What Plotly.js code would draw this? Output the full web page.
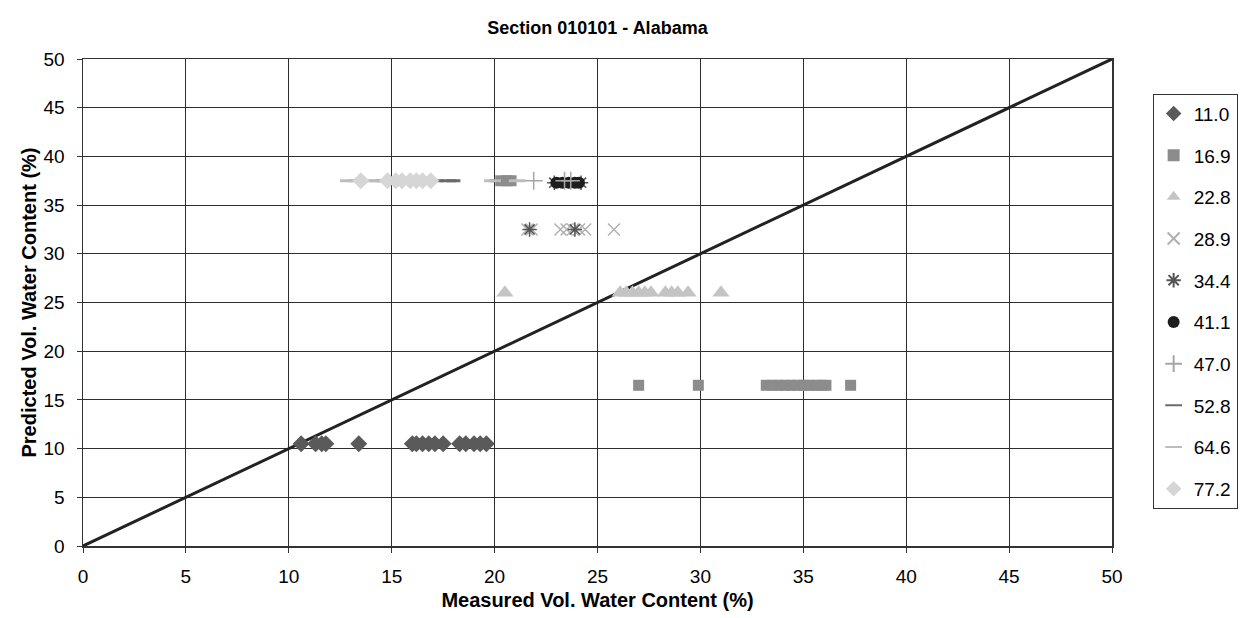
<!DOCTYPE html>
<html>
<head>
<meta charset="utf-8">
<script src="https://cdn.plot.ly/plotly-3.0.1.min.js"></script>
<style>html,body{margin:0;padding:0;background:#fff;}#chart{width:1246px;height:618px;}</style>
</head>
<body>
<div id="chart"></div>
<script>
// Series names (legend labels)
const seriesNames = ["11.0", "16.9", "22.8", "28.9", "34.4", "41.1", "47.0", "52.8", "64.6", "77.2"];

// Measured (x) and predicted (y) values per series
const x_110 = [10.6, 11.3, 11.6, 11.8, 13.4, 16.0, 16.2, 16.5, 16.8, 17.1, 17.5, 18.3, 18.6, 19.0, 19.3, 19.6];
const y_110 = [10.5, 10.5, 10.5, 10.5, 10.5, 10.5, 10.5, 10.5, 10.5, 10.5, 10.5, 10.5, 10.5, 10.5, 10.5, 10.5];

const x_169 = [27.0, 29.9, 33.2, 33.5, 33.8, 34.1, 34.4, 34.7, 35.0, 35.3, 35.6, 35.9, 36.1, 37.3, 20.3, 20.6, 20.8];
const y_169 = [16.5, 16.5, 16.5, 16.5, 16.5, 16.5, 16.5, 16.5, 16.5, 16.5, 16.5, 16.5, 16.5, 16.5, 37.5, 37.5, 37.5];

const x_228 = [20.5, 26.1, 26.4, 26.7, 27.0, 27.3, 27.6, 28.3, 28.6, 28.9, 29.4, 31.0];
const y_228 = [26.0, 26.0, 26.0, 26.0, 26.0, 26.0, 26.0, 26.0, 26.0, 26.0, 26.0, 26.0];

const x_289 = [21.6, 21.8, 23.2, 23.5, 23.8, 24.1, 24.4, 25.8];
const y_289 = [32.5, 32.5, 32.5, 32.5, 32.5, 32.5, 32.5, 32.5];

const x_344 = [21.7, 23.9, 22.9, 24.2];
const y_344 = [32.5, 32.5, 37.3, 37.3];

const x_411 = [23.0, 23.3, 23.6, 23.9, 24.1];
const y_411 = [37.3, 37.3, 37.3, 37.3, 37.3];

const x_470 = [21.9, 23.4, 23.7];
const y_470 = [37.5, 37.5, 37.5];

const x_528 = [14.5, 17.3, 17.6, 17.9, 18.1, 20.0];
const y_528 = [37.5, 37.5, 37.5, 37.5, 37.5, 37.5];

const x_646 = [12.9, 13.3, 13.9, 14.3, 19.9, 21.1];
const y_646 = [37.5, 37.5, 37.5, 37.5, 37.5, 37.5];

const x_772 = [13.5, 14.8, 15.2, 15.5, 15.9, 16.2, 16.5, 16.9];
const y_772 = [37.5, 37.5, 37.5, 37.5, 37.5, 37.5, 37.5, 37.5];

// 1:1 line
const lineX = [0, 50];
const lineY = [0, 50];

const font = "Liberation Sans, Arial, Helvetica, sans-serif";

const traces = [
  {x: lineX, y: lineY, mode: "lines", line: {color: "#222", width: 3}, showlegend: false, hoverinfo: "skip"},
  {x: x_110, y: y_110, name: seriesNames[0], marker: {symbol: "diamond", size: 13, color: "#5a5a5a"}},
  {x: x_169, y: y_169, name: seriesNames[1], marker: {symbol: "square", size: 11, color: "#8c8c8c"}},
  {x: x_228, y: y_228, name: seriesNames[2], marker: {symbol: "triangle-up", size: 15, color: "#c4c4c4"}},
  {x: x_289, y: y_289, name: seriesNames[3], marker: {symbol: "x-thin", size: 12, color: "#b0b0b0", line: {color: "#b0b0b0", width: 1.5}}},
  {x: x_344, y: y_344, name: seriesNames[4], marker: {symbol: "asterisk", size: 12, color: "#555", line: {color: "#555", width: 1.5}}},
  {x: x_411, y: y_411, name: seriesNames[5], marker: {symbol: "circle", size: 12, color: "#1e1e1e"}},
  {x: x_470, y: y_470, name: seriesNames[6], marker: {symbol: "cross-thin", size: 13, color: "#a6a6a6", line: {color: "#a6a6a6", width: 1.5}}},
  {x: x_528, y: y_528, name: seriesNames[7], marker: {symbol: "line-ew", size: 7, color: "#6a6a6a", line: {color: "#6a6a6a", width: 3}}},
  {x: x_646, y: y_646, name: seriesNames[8], marker: {symbol: "line-ew", size: 12, color: "#bdbdbd", line: {color: "#bdbdbd", width: 3}}},
  {x: x_772, y: y_772, name: seriesNames[9], marker: {symbol: "diamond", size: 13, color: "#d6d6d6"}}
];
traces.forEach((t, i) => {
  t.type = "scatter";
  if (i > 0) { t.mode = "markers"; t.legendgroup = "g" + i; }
});

const axisBase = {
  range: [0, 50], dtick: 5, tick0: 0,
  showgrid: true, gridcolor: "#2e2e2e", gridwidth: 1,
  showline: true, linecolor: "#333", linewidth: 1.5, mirror: true,
  ticks: "outside", ticklen: 5, tickcolor: "#333",
  ticklabelstandoff: 8,
  zeroline: false, fixedrange: true,
  tickfont: {family: font, size: 19, color: "#000"}
};

const layout = {
  width: 1246, height: 618,
  paper_bgcolor: "#fff", plot_bgcolor: "#fff",
  margin: {l: 83, r: 134, t: 59, b: 72, autoexpand: false},
  title: {text: "<b>Section 010101 - Alabama</b>", font: {family: font, size: 18, color: "#000"},
          x: 0.4795, xanchor: "center", y: 0.955, yanchor: "middle"},
  xaxis: Object.assign({}, axisBase, {
    title: {text: "<b>Measured Vol. Water Content (%)</b>", font: {family: font, size: 20, color: "#000"}, standoff: 6}
  }),
  yaxis: Object.assign({}, axisBase, {
    title: {text: "<b>Predicted Vol. Water Content (%)</b>", font: {family: font, size: 20, color: "#000"}, standoff: 1}
  }),
  showlegend: true,
  legend: {
    x: 1.0395, xanchor: "left", y: 0.929, yanchor: "top",
    bordercolor: "#333", borderwidth: 1, bgcolor: "#fff",
    font: {family: font, size: 19, color: "#000"},
    tracegroupgap: 14, itemsizing: "constant"
  }
};

Plotly.newPlot("chart", traces, layout, {staticPlot: true, displayModeBar: false});
</script>
</body>
</html>
